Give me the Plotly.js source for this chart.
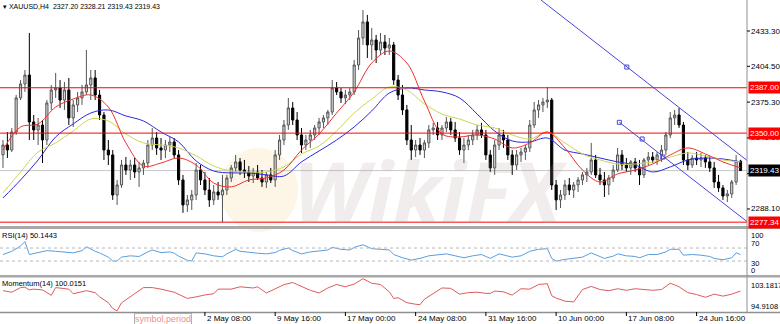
<!DOCTYPE html>
<html><head><meta charset="utf-8">
<script src="https://cdn.plot.ly/plotly-3.0.1.min.js"></script>
<style>html,body{margin:0;padding:0;background:#fff;}#chart{width:780px;height:324px;}</style>
</head><body><div id="chart"></div>
<script>
// ---------- DATA (XAUUSD, each candle = 8 hours) ----------
const opens = [2332.2,2340.3,2336.2,2350.9,2378.7,2390.1,2397.4,2359.1,2352.6,2356.6,
2344.4,2374.6,2385.2,2386.8,2377.0,2385.2,2362.4,2373.0,2378.7,2383.6,
2389.3,2395.0,2381.1,2364.8,2336.2,2332.2,2299.5,2307.7,2324.0,2319.9,
2324.0,2318.3,2321.6,2325.6,2340.3,2346.0,2337.9,2336.2,2340.3,2342.8,
2332.2,2311.8,2291.4,2295.5,2299.5,2319.9,2311.8,2303.6,2295.5,2302.0,
2299.5,2303.6,2313.4,2321.6,2326.5,2319.9,2318.3,2315.0,2318.3,2313.4,
2310.1,2315.9,2311.8,2332.2,2344.4,2356.6,2370.5,2360.7,2348.5,2340.3,
2344.4,2348.5,2354.2,2359.1,2362.4,2367.2,2386.8,2383.6,2378.7,2381.1,
2383.6,2405.6,2427.6,2440.7,2421.9,2426.0,2417.8,2424.3,2419.4,2421.9,
2393.3,2381.1,2368.9,2344.4,2336.2,2340.3,2336.2,2342.0,2352.6,2354.2,
2348.5,2354.2,2359.1,2352.6,2346.0,2336.2,2340.3,2344.4,2348.5,2352.6,
2348.5,2332.2,2321.6,2340.3,2348.5,2344.4,2332.2,2324.0,2332.2,2334.6,
2337.9,2356.6,2368.9,2373.0,2375.4,2377.0,2307.7,2295.5,2299.5,2307.7,
2303.6,2307.7,2311.8,2315.9,2318.3,2328.1,2315.9,2311.8,2307.7,2313.4,
2319.9,2332.2,2324.0,2321.6,2326.5,2321.6,2315.9,2328.1,2330.5,2328.1,
2332.2,2336.2,2348.5,2362.4,2364.8,2356.6,2328.1,2324.0,2329.7,2328.1,
2329.7,2326.5,2321.6,2310.1,2305.3,2298.7,2300.4,2310.1,2327.20];
const highs = [2344.4,2350.9,2354.2,2381.1,2393.3,2401.5,2431.7,2364.8,2362.4,2360.7,
2377.0,2389.3,2399.1,2393.3,2391.7,2395.0,2377.0,2383.6,2389.3,2417.8,
2401.5,2401.5,2385.2,2367.2,2344.4,2336.2,2311.8,2328.1,2330.5,2328.1,
2329.7,2326.5,2328.1,2344.4,2354.2,2350.9,2346.0,2344.4,2346.9,2346.0,
2336.2,2315.9,2299.5,2303.6,2325.6,2324.0,2318.3,2313.4,2307.7,2310.1,
2315.9,2315.9,2324.0,2332.2,2329.7,2328.1,2323.2,2321.6,2324.0,2319.9,
2318.3,2321.6,2336.2,2348.5,2360.7,2378.7,2375.4,2367.2,2354.2,2348.5,
2352.6,2356.6,2362.4,2364.8,2368.9,2393.3,2391.7,2386.8,2385.2,2386.8,
2409.7,2434.1,2450.4,2446.4,2435.8,2430.1,2431.7,2430.1,2427.6,2424.3,
2397.4,2389.3,2373.0,2356.6,2344.4,2346.0,2344.4,2356.6,2358.3,2359.1,
2356.6,2363.2,2362.4,2359.1,2350.9,2346.0,2348.5,2352.6,2356.6,2358.3,
2352.6,2336.2,2344.4,2354.2,2352.6,2348.5,2336.2,2336.2,2337.9,2340.3,
2360.7,2375.4,2377.0,2378.7,2387.6,2378.7,2311.8,2303.6,2311.8,2313.4,
2310.1,2314.2,2318.3,2321.6,2342.0,2332.2,2321.6,2318.3,2315.9,2324.0,
2337.9,2336.2,2329.7,2328.1,2329.7,2328.1,2329.7,2334.6,2334.6,2334.6,
2340.3,2350.9,2367.2,2368.9,2370.5,2359.1,2334.6,2332.2,2334.6,2333.8,
2332.2,2331.4,2326.5,2315.9,2307.7,2303.6,2311.8,2332.2,2328.21];
const lows = [2321.6,2329.7,2334.6,2348.5,2377.0,2383.6,2344.4,2344.4,2340.3,2325.6,
2340.3,2368.9,2378.7,2370.5,2368.9,2356.6,2355.0,2367.2,2373.0,2381.1,
2377.0,2377.0,2360.7,2328.1,2324.0,2295.5,2291.4,2305.3,2315.9,2311.8,
2313.4,2306.1,2315.9,2321.6,2336.2,2332.2,2328.1,2329.7,2334.6,2329.7,
2307.7,2284.9,2285.7,2287.3,2295.5,2307.7,2299.5,2289.8,2291.4,2295.5,
2277.34,2299.5,2310.1,2318.3,2315.9,2313.4,2310.1,2309.3,2311.8,2306.1,
2305.3,2309.3,2306.1,2328.1,2340.3,2352.6,2356.6,2344.4,2333.8,2336.2,
2337.9,2344.4,2348.5,2354.2,2356.6,2364.8,2381.1,2374.6,2373.8,2377.0,
2381.1,2401.5,2421.9,2411.3,2409.7,2407.2,2413.7,2413.7,2413.7,2389.3,
2377.0,2364.8,2340.3,2328.1,2330.5,2332.2,2329.7,2337.9,2348.5,2344.4,
2344.4,2350.9,2348.5,2342.8,2332.2,2325.6,2336.2,2340.3,2344.4,2346.0,
2328.1,2318.3,2315.9,2336.2,2337.9,2328.1,2315.9,2319.9,2326.5,2328.1,
2334.6,2354.2,2362.4,2367.2,2370.5,2303.6,2287.3,2288.9,2295.5,2299.5,
2297.1,2302.0,2307.7,2310.1,2315.9,2313.4,2307.7,2297.9,2299.5,2310.1,
2318.3,2319.9,2318.3,2315.9,2318.3,2307.7,2313.4,2324.0,2325.6,2324.0,
2326.5,2332.2,2346.0,2356.6,2354.2,2324.0,2319.9,2321.6,2324.0,2322.4,
2321.6,2318.3,2305.3,2302.0,2295.5,2293.8,2297.1,2307.7,2319.43];
const closes = [2340.3,2336.2,2350.9,2378.7,2390.1,2397.4,2359.1,2352.6,2356.6,2344.4,
2374.6,2385.2,2386.8,2377.0,2385.2,2362.4,2373.0,2378.7,2383.6,2389.3,
2395.0,2381.1,2364.8,2336.2,2332.2,2299.5,2307.7,2324.0,2319.9,2324.0,
2318.3,2321.6,2325.6,2340.3,2346.0,2337.9,2336.2,2340.3,2342.8,2332.2,
2311.8,2291.4,2295.5,2299.5,2319.9,2311.8,2303.6,2295.5,2302.0,2299.5,
2303.6,2313.4,2321.6,2326.5,2319.9,2318.3,2315.0,2318.3,2313.4,2310.1,
2315.9,2311.8,2332.2,2344.4,2356.6,2370.5,2360.7,2348.5,2340.3,2344.4,
2348.5,2354.2,2359.1,2362.4,2367.2,2386.8,2383.6,2378.7,2381.1,2383.6,
2405.6,2427.6,2440.7,2421.9,2426.0,2417.8,2424.3,2419.4,2421.9,2393.3,
2381.1,2368.9,2344.4,2336.2,2340.3,2336.2,2342.0,2352.6,2354.2,2348.5,
2354.2,2359.1,2352.6,2346.0,2336.2,2340.3,2344.4,2348.5,2352.6,2348.5,
2332.2,2321.6,2340.3,2348.5,2344.4,2332.2,2324.0,2332.2,2334.6,2337.9,
2356.6,2368.9,2373.0,2375.4,2377.0,2307.7,2295.5,2299.5,2307.7,2303.6,
2307.7,2311.8,2315.9,2318.3,2328.1,2315.9,2311.8,2307.7,2313.4,2319.9,
2332.2,2324.0,2321.6,2326.5,2321.6,2315.9,2328.1,2330.5,2328.1,2332.2,
2336.2,2348.5,2362.4,2364.8,2356.6,2328.1,2324.0,2329.7,2328.1,2329.7,
2326.5,2321.6,2310.1,2305.3,2298.7,2300.4,2310.1,2327.2,2319.43];

const timeTickIdx = [46,62,78,94,110,126,142,158];
const timeTickText = ['2 May 08:00','9 May 16:00','17 May 00:00','24 May 08:00','31 May 16:00','10 Jun 00:00','17 Jun 08:00','24 Jun 16:00'];

const maIdx = [0,4,8,12,16,20,24,28,32,36,40,44,48,52,56,60,64,68,72,76,80,84,88,92,96,100,104,108,112,116,120,124,128,132,136,140,144,148,152,156,160,164,168];
const maRed = [2336.2,2355.0,2357.5,2371.3,2377.8,2381.1,2371.3,2342.0,2323.2,2325.6,2329.7,2324.0,2309.3,2306.1,2311.8,2313.4,2319.9,2336.2,2349.3,2366.4,2383.6,2407.2,2417.0,2407.2,2376.2,2349.3,2346.9,2348.5,2345.2,2337.9,2342.0,2350.9,2337.9,2319.9,2310.1,2316.7,2319.9,2324.8,2332.2,2337.9,2333.0,2326.5,2321.6];
const maYellow = [2301.2,2318.3,2334.6,2342.0,2351.7,2361.5,2359.9,2349.3,2342.0,2340.3,2337.9,2331.4,2323.2,2319.1,2318.3,2318.3,2322.4,2333.0,2339.5,2351.7,2366.4,2377.8,2387.6,2385.2,2373.8,2365.6,2361.5,2356.6,2354.2,2348.5,2345.2,2350.9,2342.0,2333.0,2328.1,2324.8,2324.8,2326.5,2330.5,2333.8,2331.4,2328.1,2326.5];
const maBlue = [2297.1,2311.8,2328.1,2346.9,2357.5,2366.4,2368.9,2364.0,2359.9,2350.9,2342.8,2327.3,2319.1,2317.5,2317.5,2315.9,2315.0,2326.5,2335.4,2344.4,2355.0,2368.1,2382.7,2386.8,2385.2,2383.6,2378.7,2365.6,2351.7,2343.6,2342.8,2346.0,2336.2,2333.0,2329.7,2326.5,2324.0,2318.3,2322.4,2328.1,2329.7,2328.9,2326.5];

const rsiIdx = [0,2,4,5,6,8,10,12,14,16,18,19,21,22,24,25,26,27,29,31,33,34,36,38,39,40,42,43,44,46,48,50,51,53,54,56,58,60,62,63,65,66,68,70,72,74,75,77,79,80,82,84,86,88,89,91,93,95,97,99,101,103,105,107,109,110,111,113,115,116,118,120,122,124,125,126,128,130,132,134,136,137,139,140,142,144,145,147,149,151,152,154,155,157,159,161,162,164,166,167,168];
const rsiVal = [50,60,76,90,50,55,62,60,58,55,62,74,60,55,42,30,30,42,46,44,58,64,56,58,54,45,32,30,55,52,46,43,52,66,60,56,54,52,56,63,70,62,52,58,62,64,72,66,64,72,80,68,66,64,50,40,33,38,46,48,52,46,40,46,50,44,38,52,46,42,46,60,66,68,38,30,35,38,42,55,42,38,45,52,46,44,40,50,50,58,66,66,48,50,48,44,38,34,40,55,50.1443];

const momIdx = [0,2,4,5,6,7,9,11,12,15,16,19,21,22,24,25,26,27,28,30,32,34,36,39,42,44,46,48,49,52,54,57,58,60,62,64,66,68,70,72,74,76,78,80,81,82,84,86,88,89,90,92,94,95,96,98,100,102,104,106,108,110,111,112,114,116,118,120,122,124,125,126,128,130,132,134,136,138,140,142,144,146,148,150,152,153,154,156,158,160,162,164,166,168];
const momVal = [100.1,99.7,100.9,101.0,100.3,100.5,100.3,98.9,100.9,100.5,99.3,100.1,99.6,98.5,97.0,95.5,94.91,96.97,97.75,99.3,100.9,100.9,100.5,99.7,98.1,98.5,99.0,99.3,100.5,100.5,101.1,100.8,101.1,99.5,100.6,101.65,102.2,101.2,100.2,99.5,100.8,101.7,101.1,101.8,102.55,103.18,102.0,101.7,99.8,98.1,98.3,97.0,96.6,96.5,97.9,99.4,100.8,100.7,99.2,99.6,99.7,99.4,99.4,100.0,99.8,98.96,100.6,100.5,101.7,101.9,98.8,98.2,97.4,97.2,100.4,101.2,100.4,100.1,100.6,100.2,100.6,100.4,100.2,100.4,102.0,101.6,101.1,99.6,99.1,98.4,99.2,98.7,99.2,100.0151];

const priceTicks = [2433.30,2404.50,2375.30,2346.10,2316.90,2288.10];
const levelPrices = [2387.00,2350.00,2277.34];
const bidPrice = 2319.43;
const rsiLevels = [70,30];
const rsiLabels = ['100','70','30','0'];
const momLabels = ['103.1817','94.9108'];
const chanUpperIdx = [122.55,169.5];
const chanUpperPrice = [2458.6,2327.7];
const chanLowerIdx = [140.4,169.5];
const chanLowerPrice = [2358.8,2277.8];
const chanMarkIdx = [142.1,140.4,145.6,150.3];
const chanMarkPrice = [2403.9,2358.8,2345.2,2330.5];

// ---------- LAYOUT HELPERS (pixel -> paper) ----------
const PW = 747, PH = 312;
const px = v => v / PW;
const py = v => (PH - v) / PH;
const FONT = '"Liberation Sans", Arial, sans-serif';
const idx = opens.map((_, i) => i);

const traces = [
  {type:'candlestick', x:idx, open:opens, high:highs, low:lows, close:closes, xaxis:'x', yaxis:'y',
   increasing:{line:{color:'#555555', width:1}, fillcolor:'#d8d8d8'},
   decreasing:{line:{color:'#000000', width:1}, fillcolor:'#000000'},
   whiskerwidth:0, hoverinfo:'skip'},
  {type:'scatter', mode:'lines', x:maIdx, y:maBlue, line:{color:'#2a2ae0', width:1, shape:'spline'}, xaxis:'x', yaxis:'y', hoverinfo:'skip'},
  {type:'scatter', mode:'lines', x:maIdx, y:maYellow, line:{color:'#cdd650', width:1, shape:'spline'}, xaxis:'x', yaxis:'y', hoverinfo:'skip'},
  {type:'scatter', mode:'lines', x:maIdx, y:maRed, line:{color:'#f03030', width:1, shape:'spline'}, xaxis:'x', yaxis:'y', hoverinfo:'skip'},
  {type:'scatter', mode:'lines', x:chanUpperIdx, y:chanUpperPrice, line:{color:'#4646dc', width:1}, xaxis:'x', yaxis:'y', hoverinfo:'skip'},
  {type:'scatter', mode:'lines', x:chanLowerIdx, y:chanLowerPrice, line:{color:'#4646dc', width:1}, xaxis:'x', yaxis:'y', hoverinfo:'skip'},
  {type:'scatter', mode:'markers', x:chanMarkIdx, y:chanMarkPrice, marker:{symbol:'square-open', size:4, color:'#4646dc', line:{width:1}}, xaxis:'x', yaxis:'y', hoverinfo:'skip'},
  {type:'scatter', mode:'lines', x:rsiIdx, y:rsiVal, line:{color:'#5a9ee0', width:1}, xaxis:'x', yaxis:'y2', hoverinfo:'skip'},
  {type:'scatter', mode:'lines', x:momIdx, y:momVal, line:{color:'#e05a5a', width:1}, xaxis:'x', yaxis:'y3', hoverinfo:'skip'}
];

const shapes = [];
// watermark logo
shapes.push({type:'circle', xref:'paper', yref:'paper', x0:px(220), x1:px(298), y0:py(232), y1:py(148), fillcolor:'rgba(245,205,120,0.18)', line:{width:0}, layer:'below'});
levelPrices.forEach(p => shapes.push({type:'line', xref:'paper', yref:'y', x0:0, x1:1, y0:p, y1:p, line:{color:'#ff0000', width:1}}));
shapes.push({type:'line', xref:'paper', yref:'y', x0:0, x1:1, y0:bidPrice, y1:bidPrice, line:{color:'#c8c8c8', width:1}, layer:'below'});
rsiLevels.forEach(v => shapes.push({type:'line', xref:'paper', yref:'y2', x0:0, x1:1, y0:v, y1:v, line:{color:'#b8b8b8', width:1, dash:'dot'}}));
// panel separators and borders
[[226,229],[275,277.5]].forEach(b => shapes.push({type:'rect', xref:'paper', yref:'paper', x0:0, x1:780/PW, y0:py(b[1]), y1:py(b[0]), fillcolor:'#a8a8a8', line:{width:0}}));
shapes.push({type:'line', xref:'paper', yref:'paper', x0:0, x1:780/PW, y0:py(312.5), y1:py(312.5), line:{color:'#909090', width:1.5}});
shapes.push({type:'line', xref:'paper', yref:'paper', x0:1, x1:1, y0:py(312), y1:1, line:{color:'#909090', width:1}});
timeTickIdx.forEach(t => shapes.push({type:'line', xref:'x', yref:'paper', x0:t, x1:t, y0:py(312), y1:py(316), line:{color:'#000', width:1}}));
priceTicks.forEach(p => shapes.push({type:'line', xref:'paper', yref:'y', x0:1, x1:1 + 3/PW, y0:p, y1:p, line:{color:'#000', width:1}}));

const ann = [];
// price scale labels first, so the level boxes sit on top of them
priceTicks.forEach(p => ann.push({xref:'paper', yref:'y', x:1, y:p, xanchor:'left', yanchor:'middle', xshift:3, showarrow:false,
  text:p.toFixed(2), borderpad:0, font:{family:FONT, size:8, color:'#000'}}));
ann.push({xref:'paper', yref:'paper', x:px(1), y:py(6), xanchor:'left', yanchor:'middle', showarrow:false,
  text:'▾ XAUUSD,H4  2327.20 2328.21 2319.43 2319.43', font:{family:FONT, size:7, color:'#000'}});
ann.push({xref:'paper', yref:'paper', x:px(0), y:py(235.5), xanchor:'left', yanchor:'middle', showarrow:false,
  text:'RSI(14) 50.1443', font:{family:FONT, size:7.5, color:'#000'}});
ann.push({xref:'paper', yref:'paper', x:px(0), y:py(283.5), xanchor:'left', yanchor:'middle', showarrow:false,
  text:'Momentum(14) 100.0151', font:{family:FONT, size:7.5, color:'#000'}});
// watermark text
ann.push({xref:'paper', yref:'paper', x:px(430), y:py(190), xanchor:'center', yanchor:'middle', showarrow:false,
  text:'<b><i>WikiFX</i></b>', font:{family:'"Open Sans", Arial, sans-serif', size:84, color:'rgba(175,150,150,0.17)'}});
// time labels
timeTickIdx.forEach((t, k) => ann.push({xref:'x', yref:'paper', x:t, y:py(318.5), xanchor:'left', yanchor:'middle', showarrow:false,
  text:timeTickText[k], font:{family:FONT, size:8, color:'#000'}}));
ann.push({xref:'paper', yref:'paper', x:px(192), y:py(318.5), xanchor:'right', yanchor:'middle', showarrow:false,
  text:'symbol,period', font:{family:FONT, size:9, color:'#f09090'}, bordercolor:'#b0b0b0', borderwidth:1, borderpad:0, bgcolor:'#fff'});
// level boxes
levelPrices.forEach(p => ann.push({xref:'paper', yref:'y', x:1, y:p, xanchor:'left', yanchor:'middle', xshift:1, showarrow:false,
  text:p.toFixed(2), bgcolor:'#ff0000', font:{family:FONT, size:8, color:'#fff'}, borderpad:1}));
ann.push({xref:'paper', yref:'y', x:1, y:bidPrice, xanchor:'left', yanchor:'middle', xshift:1, showarrow:false,
  text:bidPrice.toFixed(2), bgcolor:'#000', font:{family:FONT, size:8, color:'#fff'}, borderpad:1});
// indicator scale labels
[235.5, 243, 263, 270.5].forEach((p, k) => ann.push({xref:'paper', yref:'paper', x:1, y:py(p), xanchor:'left', yanchor:'middle', xshift:3, showarrow:false,
  text:rsiLabels[k], borderpad:0, font:{family:FONT, size:7.5, color:'#000'}}));
[285.5, 306].forEach((p, k) => ann.push({xref:'paper', yref:'paper', x:1, y:py(p), xanchor:'left', yanchor:'middle', xshift:3, showarrow:false,
  text:momLabels[k], borderpad:0, font:{family:FONT, size:7.5, color:'#000'}}));

const layout = {
  width:780, height:324, margin:{l:0, r:33, t:0, b:12, pad:0},
  paper_bgcolor:'#ffffff', plot_bgcolor:'#ffffff', showlegend:false,
  font:{family:FONT, size:8, color:'#000'},
  xaxis:{range:[-0.68,169.48], showgrid:false, zeroline:false, showticklabels:false, ticks:'', showline:false,
         rangeslider:{visible:false}, anchor:'y3', fixedrange:true},
  yaxis:{domain:[py(227),1], range:[2273.4,2458.6], anchor:'x', showticklabels:false, ticks:'',
         showgrid:false, zeroline:false, showline:false, fixedrange:true},
  yaxis2:{domain:[py(275),py(229)], range:[-13,128.5], anchor:'x', showticklabels:false, ticks:'', showgrid:false, zeroline:false, fixedrange:true},
  yaxis3:{domain:[py(312),py(277.5)], range:[94.6,103.5], anchor:'x', showticklabels:false, ticks:'', showgrid:false, zeroline:false, fixedrange:true},
  shapes:shapes, annotations:ann
};

Plotly.newPlot('chart', traces, layout, {staticPlot:true, displayModeBar:false});
</script></body></html>
